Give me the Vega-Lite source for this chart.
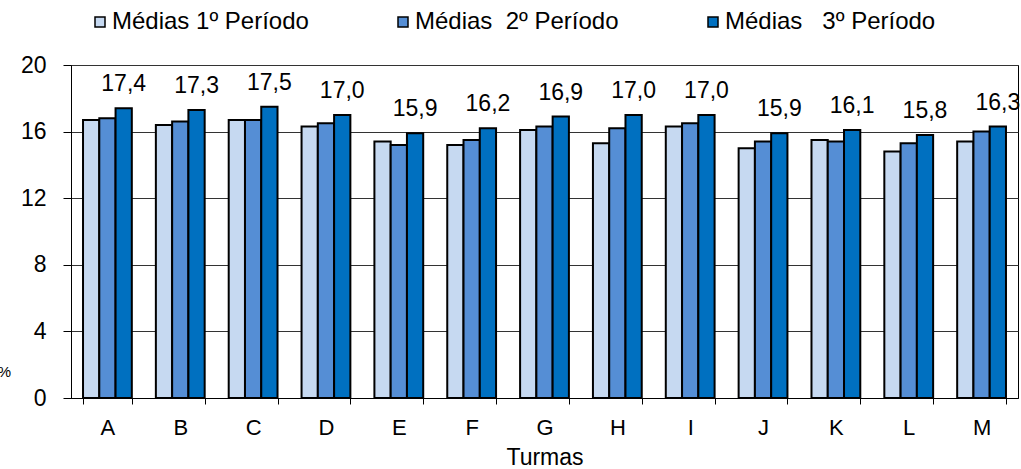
{
  "$schema": "https://vega.github.io/schema/vega-lite/v6.json",
  "autosize": "none",
  "width": 947,
  "height": 333,
  "padding": {"left": 71, "top": 65, "right": 3, "bottom": 71},
  "config": {
    "font": "Liberation Sans",
    "view": {"stroke": "black", "strokeWidth": 1},
    "locale": {"number": {"decimal": ",", "thousands": ".", "grouping": [3], "currency": ["", " €"]}}
  },
  "data": {
    "values": [
      {"turma": "A", "periodo": "Médias 1º Período", "valor": 16.7},
      {"turma": "A", "periodo": "Médias\u00a0 2º Período", "valor": 16.8},
      {"turma": "A", "periodo": "Médias\u00a0\u00a0 3º Período", "valor": 17.4},
      {"turma": "B", "periodo": "Médias 1º Período", "valor": 16.4},
      {"turma": "B", "periodo": "Médias\u00a0 2º Período", "valor": 16.6},
      {"turma": "B", "periodo": "Médias\u00a0\u00a0 3º Período", "valor": 17.3},
      {"turma": "C", "periodo": "Médias 1º Período", "valor": 16.7},
      {"turma": "C", "periodo": "Médias\u00a0 2º Período", "valor": 16.7},
      {"turma": "C", "periodo": "Médias\u00a0\u00a0 3º Período", "valor": 17.5},
      {"turma": "D", "periodo": "Médias 1º Período", "valor": 16.3},
      {"turma": "D", "periodo": "Médias\u00a0 2º Período", "valor": 16.5},
      {"turma": "D", "periodo": "Médias\u00a0\u00a0 3º Período", "valor": 17.0},
      {"turma": "E", "periodo": "Médias 1º Período", "valor": 15.4},
      {"turma": "E", "periodo": "Médias\u00a0 2º Período", "valor": 15.2},
      {"turma": "E", "periodo": "Médias\u00a0\u00a0 3º Período", "valor": 15.9},
      {"turma": "F", "periodo": "Médias 1º Período", "valor": 15.2},
      {"turma": "F", "periodo": "Médias\u00a0 2º Período", "valor": 15.5},
      {"turma": "F", "periodo": "Médias\u00a0\u00a0 3º Período", "valor": 16.2},
      {"turma": "G", "periodo": "Médias 1º Período", "valor": 16.1},
      {"turma": "G", "periodo": "Médias\u00a0 2º Período", "valor": 16.3},
      {"turma": "G", "periodo": "Médias\u00a0\u00a0 3º Período", "valor": 16.9},
      {"turma": "H", "periodo": "Médias 1º Período", "valor": 15.3},
      {"turma": "H", "periodo": "Médias\u00a0 2º Período", "valor": 16.2},
      {"turma": "H", "periodo": "Médias\u00a0\u00a0 3º Período", "valor": 17.0},
      {"turma": "I", "periodo": "Médias 1º Período", "valor": 16.3},
      {"turma": "I", "periodo": "Médias\u00a0 2º Período", "valor": 16.5},
      {"turma": "I", "periodo": "Médias\u00a0\u00a0 3º Período", "valor": 17.0},
      {"turma": "J", "periodo": "Médias 1º Período", "valor": 15.0},
      {"turma": "J", "periodo": "Médias\u00a0 2º Período", "valor": 15.4},
      {"turma": "J", "periodo": "Médias\u00a0\u00a0 3º Período", "valor": 15.9},
      {"turma": "K", "periodo": "Médias 1º Período", "valor": 15.5},
      {"turma": "K", "periodo": "Médias\u00a0 2º Período", "valor": 15.4},
      {"turma": "K", "periodo": "Médias\u00a0\u00a0 3º Período", "valor": 16.1},
      {"turma": "L", "periodo": "Médias 1º Período", "valor": 14.8},
      {"turma": "L", "periodo": "Médias\u00a0 2º Período", "valor": 15.3},
      {"turma": "L", "periodo": "Médias\u00a0\u00a0 3º Período", "valor": 15.8},
      {"turma": "M", "periodo": "Médias 1º Período", "valor": 15.4},
      {"turma": "M", "periodo": "Médias\u00a0 2º Período", "valor": 16.0},
      {"turma": "M", "periodo": "Médias\u00a0\u00a0 3º Período", "valor": 16.3}
    ]
  },
  "encoding": {
    "x": {
      "field": "turma",
      "type": "nominal",
      "scale": {"paddingInner": 0.33, "paddingOuter": 0.165},
      "axis": {
        "title": "Turmas",
        "titleFontSize": 23,
        "titleFontWeight": "normal",
        "titleColor": "black",
        "titlePadding": 8,
        "labelAngle": 0,
        "labelFontSize": 22,
        "labelColor": "black",
        "labelPadding": 13,
        "tickSize": 6,
        "tickBand": "extent",
        "tickColor": "black",
        "domainColor": "black",
        "grid": false
      }
    },
    "xOffset": {
      "field": "periodo",
      "type": "nominal",
      "sort": null,
      "scale": {
        "domain": ["Médias 1º Período", "Médias\u00a0 2º Período", "Médias\u00a0\u00a0 3º Período"],
        "paddingInner": 0,
        "paddingOuter": 0
      }
    },
    "y": {
      "field": "valor",
      "type": "quantitative",
      "scale": {"domain": [0, 20], "nice": false},
      "axis": {
        "values": [0, 4, 8, 12, 16, 20],
        "title": "%",
        "titleAngle": 0,
        "titleX": -67,
        "titleY": 306,
        "titleAlign": "center",
        "titleBaseline": "middle",
        "titleFontSize": 15,
        "titleFontWeight": "normal",
        "titleColor": "black",
        "labelFontSize": 23,
        "labelColor": "black",
        "labelPadding": 17,
        "tickSize": 8,
        "tickColor": "black",
        "domainColor": "black",
        "gridColor": "#333333",
        "gridWidth": 1,
        "format": "d"
      }
    }
  },
  "layer": [
    {
      "mark": {"type": "bar", "stroke": "black", "strokeWidth": 2},
      "encoding": {
        "color": {
          "field": "periodo",
          "type": "nominal",
          "scale": {
            "domain": ["Médias 1º Período", "Médias\u00a0 2º Período", "Médias\u00a0\u00a0 3º Período"],
            "range": ["#C6D9F1", "#558ED5", "#0070C0"]
          },
          "legend": {
            "title": null,
            "orient": "none",
            "direction": "horizontal",
            "legendX": 17,
            "legendY": -55,
            "symbolType": "square",
            "symbolSize": 100,
            "symbolStrokeColor": "black",
            "symbolStrokeWidth": 1.5,
            "labelFontSize": 24,
            "labelColor": "black",
            "labelOffset": 0,
            "columnPadding": 82,
            "labelLimit": 400
          }
        }
      }
    },
    {
      "transform": [{"filter": "indexof(datum.periodo, '3º') >= 0"}],
      "mark": {"type": "text", "baseline": "alphabetic", "dy": -17, "fontSize": 23, "color": "black"},
      "encoding": {
        "text": {"field": "valor", "type": "quantitative", "format": ".1f"}
      }
    }
  ]
}
